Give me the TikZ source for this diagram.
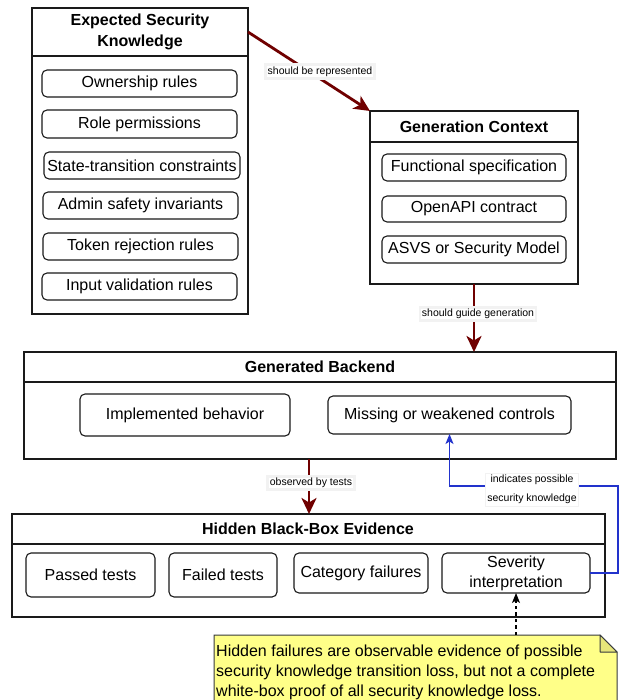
\documentclass[tikz,border=0pt]{standalone}
\usepackage{fontspec}
\setmainfont{Liberation Sans}
\usetikzlibrary{arrows.meta,calc}
\definecolor{arrred}{HTML}{700000}
\definecolor{arrblue}{HTML}{2233CC}
\definecolor{notefill}{HTML}{FFFF88}
\definecolor{foldfill}{HTML}{E6E67A}
\definecolor{noteline}{HTML}{36393D}
\definecolor{boxline}{HTML}{1A1A1A}
\begin{document}
\begin{tikzpicture}[x=1pt,y=-1pt,
  container/.style={draw=boxline, line width=1.2pt, fill=white, rectangle, anchor=north west, inner sep=0pt, outer sep=0pt},
  hdr/.style={draw=boxline, line width=1.2pt},
  item/.style={draw=boxline, line width=1.1pt, rounded corners=5pt, fill=white, anchor=north west, inner sep=0pt, outer sep=0pt, font=\fontsize{16}{20}\selectfont, align=center},
  boxtitle/.style={font=\bfseries\fontsize{16}{21}\selectfont, align=center, inner sep=0pt},
  elabel/.style={fill=white, draw=black!5, font=\fontsize{10.5}{19}\selectfont, inner sep=2pt, align=center},
  redarrow/.style={draw=arrred, line width=2.8pt, -{Stealth[length=16pt,width=15pt,inset=4.5pt]}},
  bluearrow/.style={draw=arrblue, line width=1.2pt, -{Stealth[length=10pt,width=8pt,inset=2.5pt]}},
  dasharrow/.style={draw=black, line width=1.1pt, dash pattern=on 3.5pt off 3pt, -{Stealth[length=10pt,width=8pt,inset=2.5pt]}},
  notetext/.style={anchor=north west, align=left, font=\fontsize{16}{19.7}\selectfont, inner sep=0pt}
]
\useasboundingbox (0,0) rectangle (620,700);
\fill[white] (0,0) rectangle (620,700);

% Expected Security Knowledge
\node[container, minimum width=216pt, minimum height=306pt] (esk) at (32,8) {};
\draw[hdr] ($(esk.north west)+(0,48)$) -- ($(esk.north east)+(0,48)$);
\node[boxtitle] (eskt) at (140,32) {Expected Security\\Knowledge};
\node[item, minimum width=195pt, minimum height=27pt] (own) at (42,70) {Ownership rules};
\node[item, minimum width=195pt, minimum height=28pt] (role) at (42,110) {Role permissions};
\node[item, minimum width=196pt, minimum height=27pt] (state) at (44,152) {State-transition constraints};
\node[item, minimum width=195pt, minimum height=27pt] (admin) at (43,192) {Admin safety invariants};
\node[item, minimum width=195pt, minimum height=27pt] (token) at (43,233) {Token rejection rules};
\node[item, minimum width=195pt, minimum height=27pt] (input) at (42,273) {Input validation rules};

% Generation Context
\node[container, minimum width=208pt, minimum height=173pt] (gc) at (370,111) {};
\draw[hdr] ($(gc.north west)+(0,31)$) -- ($(gc.north east)+(0,31)$);
\node[boxtitle] (gct) at (474,127) {Generation Context};
\node[item, minimum width=184pt, minimum height=27pt] (func) at (382,154) {Functional specification};
\node[item, minimum width=184pt, minimum height=26pt] (oapi) at (382,196) {OpenAPI contract};
\node[item, minimum width=184pt, minimum height=27pt] (asvs) at (382,236) {ASVS or Security Model};

% Generated Backend
\node[container, minimum width=592pt, minimum height=107pt] (gb) at (24,352) {};
\draw[hdr] ($(gb.north west)+(0,30)$) -- ($(gb.north east)+(0,30)$);
\node[boxtitle] (gbt) at (320,367) {Generated Backend};
\node[item, minimum width=210pt, minimum height=42pt] (impl) at (80,394) {Implemented behavior};
\node[item, minimum width=243pt, minimum height=38pt] (miss) at (328,396) {Missing or weakened controls};

% Hidden Black-Box Evidence
\node[container, minimum width=593pt, minimum height=103pt] (hbe) at (12,514) {};
\draw[hdr] ($(hbe.north west)+(0,30)$) -- ($(hbe.north east)+(0,30)$);
\node[boxtitle] (hbet) at (308,529) {Hidden Black-Box Evidence};
\node[item, minimum width=129pt, minimum height=44pt] (pass) at (26,553) {Passed tests};
\node[item, minimum width=108pt, minimum height=44pt] (fail) at (169,553) {Failed tests};
\node[item, minimum width=134pt, minimum height=40pt] (cat) at (294,553) {Category failures};
\node[item, minimum width=148pt, minimum height=40pt] (sev) at (442,553) {Severity\\interpretation};

% Note
\node[anchor=north west, inner sep=0pt, outer sep=0pt, minimum width=403pt, minimum height=70pt] (note) at (214,635) {};
\filldraw[fill=notefill, draw=noteline, line width=1pt]
  (note.north west) -- ($(note.north east)+(-17,0)$) -- ($(note.north east)+(0,17)$)
  -- (note.south east) -- (note.south west) -- cycle;
\filldraw[fill=foldfill, draw=noteline, line width=1pt, line join=round]
  ($(note.north east)+(-17,0)$) -- ($(note.north east)+(-17,17)$) -- ($(note.north east)+(0,17)$) -- cycle;
\node[notetext] (notet) at (216,645) {Hidden failures are observable evidence of possible\\security knowledge transition loss, but not a complete\\white-box proof of all security knowledge loss.};

% Connectors
\draw[redarrow] ([yshift=-24pt]esk.north east) -- (gc.north west)
  node[elabel, pos=0.59, yshift=7pt] (l1) {should be represented};
\draw[redarrow] (gc.south) -- (gc.south |- gb.north)
  node[elabel, midway, xshift=4pt, yshift=4pt] (l2) {should guide generation};
\draw[redarrow] ([xshift=-11pt]gb.south) -- ([xshift=-11pt]gb.south |- hbe.north)
  node[elabel, midway, xshift=2pt, yshift=3.5pt] (l3) {observed by tests};
\coordinate (bc) at (618,486);
\draw[bluearrow] (sev.east) -| (bc) -| (miss.south);
\node[elabel] (l4) at (532,489.5) {indicates possible\\security knowledge};
\draw[dasharrow] (note.north -| sev.south) -- (sev.south);
\end{tikzpicture}
\end{document}
